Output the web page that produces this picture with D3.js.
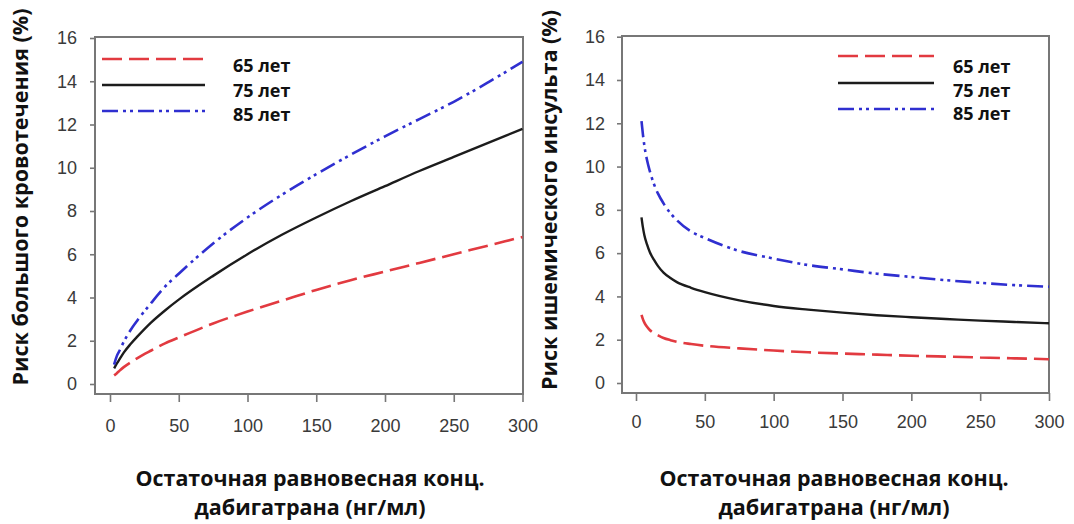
<!DOCTYPE html>
<html>
<head>
<meta charset="utf-8">
<script src="https://cdn.jsdelivr.net/npm/d3@7"></script>
<style>
  html, body { margin: 0; padding: 0; background: #fff; }
  svg { display: block; }
</style>
</head>
<body>
<svg id="chart" width="1074" height="524"></svg>
<script>
// Age groups shown in both panels
const ageLabels = ["65 лет", "75 лет", "85 лет"];

// Shared axis ticks
const xTicks = [0, 50, 100, 150, 200, 250, 300];
const yTicks = [0, 2, 4, 6, 8, 10, 12, 14, 16];

// Major bleeding risk (%) vs trough dabigatran concentration (ng/ml)
const bleedConc = [3, 5, 7, 10, 15, 20, 30, 40, 50, 75, 100, 125, 150, 175, 200, 225, 250, 275, 300];
const bleed65 = [0.4, 0.5, 0.62, 0.78, 1.0, 1.2, 1.55, 1.88, 2.15, 2.8, 3.35, 3.85, 4.35, 4.8, 5.2, 5.6, 6.0, 6.4, 6.8];
const bleed75 = [0.72, 0.95, 1.15, 1.45, 1.85, 2.2, 2.85, 3.4, 3.9, 5.0, 6.0, 6.9, 7.7, 8.45, 9.15, 9.85, 10.5, 11.15, 11.8];
const bleed85 = [0.9, 1.3, 1.55, 1.95, 2.5, 2.95, 3.75, 4.5, 5.1, 6.5, 7.7, 8.75, 9.7, 10.6, 11.45, 12.25, 13.05, 13.95, 14.9];

// Ischemic stroke risk (%) vs trough dabigatran concentration (ng/ml)
const strokeConc = [4, 5, 6, 8, 10, 13, 16, 20, 25, 30, 40, 50, 75, 100, 125, 150, 175, 200, 225, 250, 275, 300];
const stroke65 = [3.15, 2.95, 2.8, 2.6, 2.45, 2.3, 2.2, 2.08, 1.98, 1.9, 1.8, 1.72, 1.6, 1.5, 1.42, 1.36, 1.31, 1.26, 1.22, 1.18, 1.14, 1.1];
const stroke75 = [7.65, 7.2, 6.85, 6.4, 6.05, 5.7, 5.4, 5.1, 4.85, 4.65, 4.4, 4.2, 3.82, 3.56, 3.39, 3.25, 3.13, 3.04, 2.96, 2.88, 2.82, 2.76];
const stroke85 = [12.1, 11.5, 11.0, 10.3, 9.8, 9.2, 8.75, 8.3, 7.85, 7.5, 7.0, 6.7, 6.1, 5.75, 5.45, 5.25, 5.05, 4.9, 4.75, 4.63, 4.52, 4.45];

const xTitle1 = "Остаточная равновесная конц.";
const xTitle2 = "дабигатрана (нг/мл)";

// Line styles per age group
const styles = [
  { color: "#e23a40", dash: "20,7", width: 2.6 },
  { color: "#1c1c1c", dash: null, width: 2.4 },
  { color: "#2f2fd0", dash: "16,5,3,4,3,5", width: 2.6 }
];

const svg = d3.select("#chart");
const boldFont = "'Open Sans', 'Noto Sans', sans-serif";
const tickFont = "'Liberation Sans', Arial, sans-serif";

const panels = [
  {
    frame: { x0: 95, x1: 523, y0: 37, y1: 394 },
    xRange: [110, 522.5], yRange: [384, 38],
    conc: bleedConc, series: [bleed65, bleed75, bleed85],
    yTitle: "Риск большого кровотечения (%)", yTitleX: 28, yTitleY: 197, yTitleLen: 377,
    xLabelPad: 17, yLabelPad: 13,
    titleCx: 310,
    legend: { x0: 102, x1: 205, lineY: [59, 85, 111], textX: 233, textY: [72, 97, 121] }
  },
  {
    frame: { x0: 622, x1: 1049, y0: 36, y1: 393 },
    xRange: [636, 1049], yRange: [383, 36.7],
    conc: strokeConc, series: [stroke65, stroke75, stroke85],
    yTitle: "Риск ишемического инсульта (%)", yTitleX: 557, yTitleY: 200, yTitleLen: 380,
    xLabelPad: 14, yLabelPad: 12,
    titleCx: 834,
    legend: { x0: 838, x1: 934, lineY: [56, 83, 109], textX: 953, textY: [73, 97, 120] }
  }
];

panels.forEach(p => {
  const g = svg.append("g");
  const x = d3.scaleLinear().domain([0, 300]).range(p.xRange);
  const y = d3.scaleLinear().domain([0, 16]).range(p.yRange);

  // Frame box
  g.append("rect")
    .attr("x", p.frame.x0).attr("y", p.frame.y0)
    .attr("width", p.frame.x1 - p.frame.x0).attr("height", p.frame.y1 - p.frame.y0)
    .attr("fill", "none").attr("stroke", "#777").attr("stroke-width", 2);

  // Y axis on the left edge of the frame
  const yAxis = g.append("g")
    .attr("transform", `translate(${p.frame.x0},0)`)
    .call(d3.axisLeft(y).tickValues(yTicks).tickSize(5).tickPadding(p.yLabelPad).tickSizeOuter(0));
  yAxis.select(".domain").remove();

  // X axis on the bottom edge of the frame
  const xAxis = g.append("g")
    .attr("transform", `translate(0,${p.frame.y1})`)
    .call(d3.axisBottom(x).tickValues(xTicks).tickSize(8).tickPadding(p.xLabelPad).tickSizeOuter(0));
  xAxis.select(".domain").remove();

  [yAxis, xAxis].forEach(a => {
    a.selectAll(".tick line").attr("stroke", "#777").attr("stroke-width", 1.6);
    a.selectAll(".tick text")
      .attr("fill", "#3a3a3a")
      .style("font-family", tickFont)
      .style("font-size", "18px");
  });

  // Curves
  const line = d3.line()
    .x((d, i) => x(p.conc[i]))
    .y(d => y(d))
    .curve(d3.curveMonotoneX);

  p.series.forEach((vals, k) => {
    const s = styles[k];
    g.append("path")
      .datum(vals)
      .attr("d", line)
      .attr("fill", "none")
      .attr("stroke", s.color)
      .attr("stroke-width", s.width)
      .attr("stroke-dasharray", s.dash);
  });

  // Legend
  ageLabels.forEach((lab, k) => {
    const s = styles[k];
    g.append("line")
      .attr("x1", p.legend.x0).attr("x2", p.legend.x1)
      .attr("y1", p.legend.lineY[k]).attr("y2", p.legend.lineY[k])
      .attr("stroke", s.color)
      .attr("stroke-width", s.width)
      .attr("stroke-dasharray", s.dash);
    g.append("text")
      .attr("x", p.legend.textX).attr("y", p.legend.textY[k])
      .text(lab)
      .style("font-family", boldFont)
      .style("font-weight", "bold")
      .style("font-size", "18px")
      .attr("fill", "#111");
  });

  // Y title (rotated)
  g.append("text")
    .attr("transform", `translate(${p.yTitleX},${p.yTitleY}) rotate(-90)`)
    .attr("text-anchor", "middle")
    .attr("textLength", p.yTitleLen)
    .attr("lengthAdjust", "spacingAndGlyphs")
    .text(p.yTitle)
    .style("font-family", boldFont)
    .style("font-weight", "bold")
    .style("font-size", "21px")
    .attr("fill", "#111");

  // X title (two lines)
  [[xTitle1, 486, 349], [xTitle2, 515, 231]].forEach(([t, yy, len]) => {
    g.append("text")
      .attr("x", p.titleCx).attr("y", yy)
      .attr("text-anchor", "middle")
      .attr("textLength", len)
      .attr("lengthAdjust", "spacingAndGlyphs")
      .text(t)
      .style("font-family", boldFont)
      .style("font-weight", "bold")
      .style("font-size", "22px")
      .attr("fill", "#111");
  });
});
</script>
</body>
</html>
